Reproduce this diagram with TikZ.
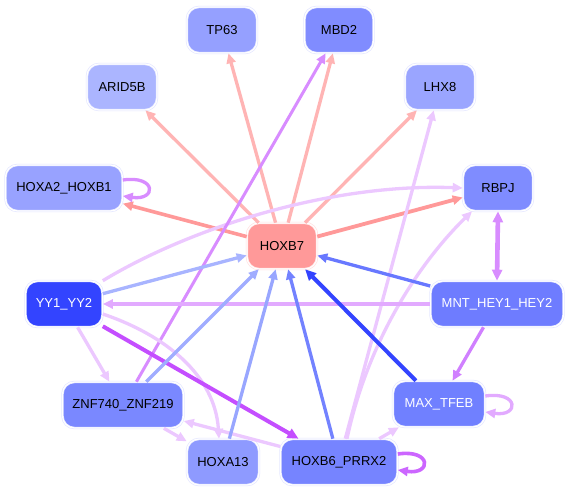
\documentclass[tikz,border=0pt]{standalone}
\usepackage{fontspec}
\setmainfont{Liberation Sans}
\usetikzlibrary{arrows.meta}
\definecolor{ring}{RGB}{226,229,255}
\definecolor{ringpink}{RGB}{255,222,222}
\definecolor{cHOXB7}{RGB}{255,153,153}
\definecolor{cARID}{RGB}{171,181,255}
\definecolor{cTP}{RGB}{149,160,255}
\definecolor{cMBD}{RGB}{128,140,255}
\definecolor{cLHX}{RGB}{154,165,255}
\definecolor{cHOXA2}{RGB}{152,162,255}
\definecolor{cRBPJ}{RGB}{127,140,255}
\definecolor{cYY}{RGB}{51,68,255}
\definecolor{cMNT}{RGB}{110,124,255}
\definecolor{cZNF}{RGB}{122,136,255}
\definecolor{cMAX}{RGB}{112,128,255}
\definecolor{cHOXA13}{RGB}{142,154,255}
\definecolor{cHOXB6}{RGB}{118,132,255}
\definecolor{epink}{RGB}{255,180,180}
\definecolor{esalmon}{RGB}{255,153,153}
\definecolor{elav}{RGB}{236,200,255}
\definecolor{elav2}{RGB}{226,170,255}
\definecolor{epurp}{RGB}{216,140,255}
\definecolor{epurp2}{RGB}{208,128,255}
\definecolor{evio}{RGB}{196,78,255}
\definecolor{eloop}{RGB}{204,102,255}
\definecolor{eb1}{RGB}{168,180,255}
\definecolor{eb2}{RGB}{160,172,255}
\definecolor{eb3}{RGB}{152,166,255}
\definecolor{eb4}{RGB}{115,130,255}
\definecolor{eb5}{RGB}{104,120,255}
\definecolor{eb6}{RGB}{51,68,255}
\begin{document}
\begin{tikzpicture}[x=1pt,y=-1pt,
  nd/.style={rectangle, rounded corners=12pt, minimum height=46pt, inner sep=0pt,
    font=\fontsize{13}{15}\selectfont, draw=ring, double=white, double distance=1.2pt, line width=0.6pt},
  tip/.tip={Triangle[length=10pt,width=9pt]},
  e/.style={line width=3.3pt, -tip},
  ee/.style={line width=4pt, -{Triangle[length=11pt,width=10pt]}}
]
\useasboundingbox (0,0) rectangle (570,492);
\fill[white] (0,0) rectangle (570,492);
% nodes
\node[nd, fill=cTP, minimum width=70pt] (tp63) at (222,30) {TP63};
\node[nd, fill=cMBD, minimum width=69pt] (mbd2) at (339,30) {MBD2};
\node[nd, fill=cARID, minimum width=70pt] (arid) at (122,87) {ARID5B};
\node[nd, fill=cLHX, minimum width=70pt] (lhx8) at (440,87) {LHX8};
\node[nd, fill=cHOXA2, minimum width=117pt] (hoxa2) at (64,188) {HOXA2\_HOXB1};
\node[nd, fill=cRBPJ, minimum width=70pt] (rbpj) at (498,188) {RBPJ};
\node[nd, fill=cHOXB7, draw=ringpink, minimum width=70pt] (hoxb7) at (282,246) {HOXB7};
\node[nd, fill=cYY, text=white, minimum width=77pt] (yy1) at (64,304) {YY1\_YY2};
\node[nd, fill=cMNT, text=white, minimum width=133pt] (mnt) at (497,304) {MNT\_HEY1\_HEY2};
\node[nd, fill=cZNF, minimum width=121pt] (znf) at (123,405) {ZNF740\_ZNF219};
\node[nd, fill=cMAX, text=white, minimum width=92pt] (max) at (439,404) {MAX\_TFEB};
\node[nd, fill=cHOXA13, minimum width=72pt] (hoxa13) at (223,462) {HOXA13};
\node[nd, fill=cHOXB6, minimum width=117pt] (hoxb6) at (339,462) {HOXB6\_PRRX2};
% edges from HOXB7
\draw[e, epink] (hoxb7) -- (tp63);
\draw[e, epink] (hoxb7) -- (mbd2);
\draw[e, epink] (hoxb7) -- (arid);
\draw[e, epink] (hoxb7) -- (lhx8);
\draw[e, esalmon, line width=3.6pt] (hoxb7) -- (hoxa2);
\draw[e, esalmon, line width=3.8pt] (hoxb7) -- (rbpj);
% lavender / purple edges
\draw[e, elav] (yy1.north east) .. controls (190,228) and (330,183) .. (rbpj.west);
\draw[e, elav] ([xshift=8pt]hoxb6.north) .. controls (368,340) and (420,262) .. ([xshift=-26pt]rbpj.south);
\draw[e, elav] (hoxb6) -- (lhx8);
\draw[e, epurp, line width=3pt] (znf) -- (mbd2);
\draw[line width=4.6pt, epurp, {Triangle[length=11pt,width=10pt]}-{Triangle[length=11pt,width=10pt]}] (mnt.north) -- (rbpj.south);
\draw[e, elav2] (mnt) -- (yy1);
\draw[e, epurp2] (mnt) -- (max);
\draw[e, elav] (yy1) -- (znf);
\draw[e, elav] ([yshift=-10pt]yy1.east) .. controls (165,335) and (215,375) .. ([xshift=-4pt]hoxa13.north);
\draw[ee, evio] (yy1) -- (hoxb6);
\draw[e, elav] (znf) -- (hoxa13);
\draw[e, elav] (hoxb6) -- (znf);
\draw[e, elav] (hoxb6) -- (max);
% blue edges to HOXB7
\draw[e, eb1] (yy1) -- (hoxb7);
\draw[e, eb2] (znf) -- (hoxb7);
\draw[e, eb3] (hoxa13) -- (hoxb7);
\draw[e, eb4] (hoxb6) -- (hoxb7);
\draw[e, eb5] (mnt) -- (hoxb7);
\draw[ee, eb6] (max) -- (hoxb7);
% self loops
\draw[e, epurp] ([yshift=8pt]hoxa2.east) .. controls +(34pt,5pt) and +(34pt,-5pt) .. ([yshift=-8pt]hoxa2.east);
\draw[e, elav2] ([yshift=8pt]max.east) .. controls +(34pt,5pt) and +(34pt,-5pt) .. ([yshift=-8pt]max.east);
\draw[e, eloop, line width=3.6pt] ([yshift=8pt]hoxb6.east) .. controls +(34pt,5pt) and +(34pt,-5pt) .. ([yshift=-8pt]hoxb6.east);
\end{tikzpicture}
\end{document}
